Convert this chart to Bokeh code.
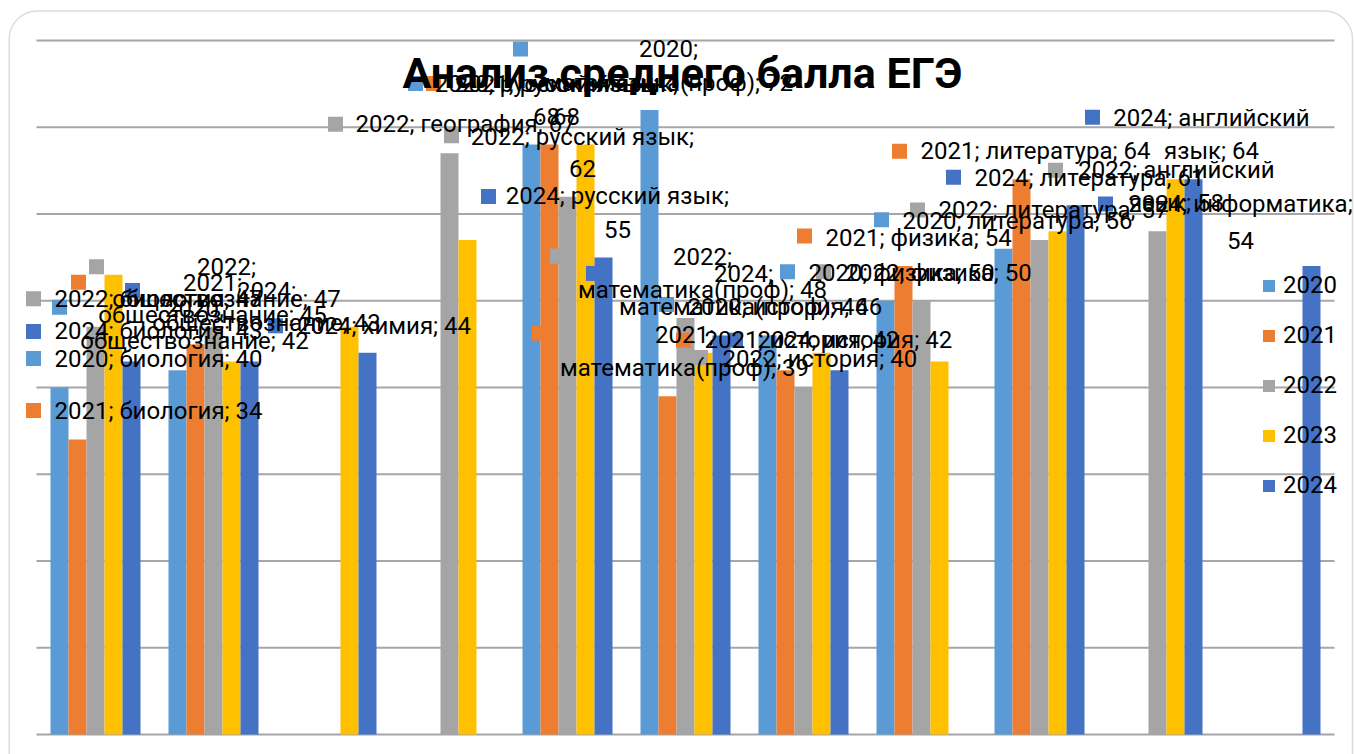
from bokeh.plotting import figure
from bokeh.models import Range1d, Legend, LegendItem, BoxAnnotation, ColumnDataSource
from bokeh.embed import file_html
from bokeh.resources import INLINE
from bokeh.core.properties import value

# ---------------- data ----------------
TITLE = "Анализ среднего балла ЕГЭ"
SUBJECTS = ["биология", "обществознание", "химия", "география", "русский язык",
            "математика(проф)", "история", "физика", "литература",
            "английский язык", "информатика"]
YEARS = ["2020", "2021", "2022", "2023", "2024"]
N = None
S2020 = [40, 42, N, N, 68, 72, 46, 50, 56, N, N]
S2021 = [34, 45, N, N, 68, 39, 42, 54, 64, N, N]
S2022 = [47, 47, N, 67, 62, 48, 40, 50, 57, 58, N]
S2023 = [53, 43, 47, 57, 68, 44, 44, 43, 58, 64, N]
S2024 = [43, 43, 44, N, 55, 46, 42, N, 61, 64, 54]
SERIES = [S2020, S2021, S2022, S2023, S2024]
Y_TICKS = [0, 10, 20, 30, 40, 50, 60, 70, 80]

# ---------------- styles / layout ----------------
COLORS = ["#5B9BD5", "#ED7D31", "#A5A5A5", "#FFC000", "#4472C4"]
FONT = "Roboto"
W, H = 1354, 754
PX_X = 118.0          # px per category
PX_Y = 8.675          # px per score point
LEFT_PAD, TOP_PAD = 36, 40
X0 = -LEFT_PAD / PX_X
X1 = X0 + W / PX_X
Y1 = 80 + TOP_PAD / PX_Y
Y0 = Y1 - H / PX_Y
BAR_W = 18.0 / PX_X

# data-label layout: (year, subject, wrap, marker dx, marker dy, text dx, line1 dy, line2 dy)
# wrap: 0 single line, 1 break after year, 2 break before value, 3 break inside subject
LABEL_LAYOUT = [
    ("2022", "биология", 0, -62, -28, -41, -28, 0),
    ("2024", "биология", 0, -98, -30, -77, -30, 0),
    ("2020", "биология", 0, -26, -29, -5, -29, 0),
    ("2021", "биология", 0, -44, -29, -23, -29, 0),
    ("2022", "обществознание", 1, -117, -60, 13, -60, -28),
    ("2021", "обществознание", 1, -117, -62, 17, -61, -29),
    ("2024", "обществознание", 1, -117, -71, 17, -70, -38),
    ("2020", "обществознание", 1, -118, -63, 17, -61, -29),
    ("2024", "химия", 0, -92, -27, -70, -27, 0),
    ("2022", "география", 0, -114, -29, -94, -29, 0),
    ("2020", "русский язык", 2, -116, -61, 15, -61, -28),
    ("2021", "русский язык", 2, -116, -61, 17, -61, -28),
    ("2022", "русский язык", 2, -116, -61, 15, -60, -28),
    ("2024", "русский язык", 2, -115, -61, 14, -61, -28),
    ("2020", "математика(проф)", 1, -129, -61, 19, -61, -27),
    ("2021", "математика(проф)", 1, -128, -63, 17, -61, -28),
    ("2022", "математика(проф)", 1, -128, -62, 17, -61, -28),
    ("2024", "математика(проф)", 1, -128, -62, 22, -61, -28),
    ("2020", "история", 0, -101, -31, -80, -28, 0),
    ("2021", "история", 0, -102, -30, -81, -30, 0),
    ("2022", "история", 0, -103, -30, -81, -29, 0),
    ("2024", "история", 0, -104, -30, -82, -30, 0),
    ("2020", "физика", 0, -98, -29, -77, -28, 0),
    ("2021", "физика", 0, -99, -30, -78, -28, 0),
    ("2022", "физика", 0, -98, -29, -76, -28, 0),
    ("2020", "литература", 0, -122, -29, -101, -28, 0),
    ("2021", "литература", 0, -122, -28, -101, -28, 0),
    ("2022", "литература", 0, -122, -30, -101, -30, 0),
    ("2024", "литература", 0, -122, -28, -101, -27, 0),
    ("2022", "английский язык", 3, -102, -61, 19, -61, -28),
    ("2024", "английский язык", 3, -101, -62, 18, -61, -28),
    ("2024", "информатика", 2, -206, -62, -71, -62, -26),
]

p = figure(width=W, height=H, output_backend="svg", toolbar_location=None,
           x_range=Range1d(X0, X1), y_range=Range1d(Y0, Y1),
           x_axis_location=None, y_axis_location=None,
           min_border=0, title=None)
p.outline_line_color = None
p.xgrid.visible = False
p.ygrid.visible = False
p.background_fill_color = "white"
p.border_fill_color = "white"

def bar_x(c, s):
    return c + 0.5 + (s - 2) * BAR_W

# gridlines
p.segment(x0=[0] * len(Y_TICKS), x1=[len(SUBJECTS)] * len(Y_TICKS),
          y0=Y_TICKS, y1=Y_TICKS, line_color="#A6A6A6", line_width=2)

# bars
renderers = []
for s, (yr, vals) in enumerate(zip(YEARS, SERIES)):
    xs = [bar_x(c, s) for c, v in enumerate(vals) if v is not None]
    tops = [v for v in vals if v is not None]
    src = ColumnDataSource(dict(x=xs, top=tops))
    r = p.vbar(x="x", top="top", bottom=0, width=BAR_W, source=src,
               fill_color=COLORS[s], line_color=None)
    renderers.append(r)

# data labels
mk = dict(x=[], y=[], c=[])
tl = dict(x=[], y=[], t=[], dx=[], dy=[])
tc = dict(x=[], y=[], t=[], dx=[], dy=[])
for yr, subj, wrap, mdx, mdy, tdx, dy1, dy2 in LABEL_LAYOUT:
    s = YEARS.index(yr)
    c = SUBJECTS.index(subj)
    v = SERIES[s][c]
    bx = bar_x(c, s)
    mk["x"].append(bx + mdx / PX_X)
    mk["y"].append(v - mdy / PX_Y)
    mk["c"].append(COLORS[s])
    if wrap == 0:
        tl["x"].append(bx); tl["y"].append(v); tl["t"].append(f"{yr}; {subj}; {v}")
        tl["dx"].append(tdx); tl["dy"].append(dy1)
        continue
    if wrap == 1:
        lines = [f"{yr};", f"{subj}; {v}"]
    elif wrap == 2:
        lines = [f"{yr}; {subj};", f"{v}"]
    else:
        w1, w2 = subj.split(" ", 1)
        lines = [f"{yr}; {w1}", f"{w2}; {v}"]
    for ln, dy in zip(lines, (dy1, dy2)):
        tc["x"].append(bx); tc["y"].append(v); tc["t"].append(ln)
        tc["dx"].append(tdx); tc["dy"].append(dy)

p.scatter(x="x", y="y", color="c", marker="square", size=15, line_color=None,
          source=ColumnDataSource(mk))
txt_style = dict(text_font=value(FONT), text_font_size="24px", text_color="#000000",
                 text_baseline="middle")
p.text(x="x", y="y", text="t", x_offset="dx", y_offset="dy", text_align="left",
       source=ColumnDataSource(tl), **txt_style)
p.text(x="x", y="y", text="t", x_offset="dx", y_offset="dy", text_align="center",
       source=ColumnDataSource(tc), **txt_style)

# title
p.text(x=[len(SUBJECTS) / 2], y=[Y_TICKS[-1]], text=[TITLE], x_offset=[-3], y_offset=[32],
       text_align="center", text_baseline="alphabetic", text_font=value(FONT),
       text_font_size="43px", text_font_style="bold", text_color="#000000")

# rounded frame of the chart area
p.add_layout(BoxAnnotation(left=(8.75 - LEFT_PAD) / PX_X, right=(1352 - LEFT_PAD) / PX_X,
                           top=(734 - 10.5) / PX_Y, bottom=(734 - 790) / PX_Y,
                           fill_alpha=0, line_color="#8C8C8C", line_width=1.5,
                           border_radius=28))

legend = Legend(items=[LegendItem(label=yr, renderers=[r]) for yr, r in zip(YEARS, renderers)],
                location=(1261, 255), orientation="vertical",
                glyph_width=15, glyph_height=15, label_standoff=7, spacing=22,
                padding=0, margin=0, border_line_color=None, background_fill_alpha=0,
                label_text_font=FONT, label_text_font_size="24px", label_text_color="#000000")
p.add_layout(legend)

open("out.html", "w").write(file_html(p, INLINE))
